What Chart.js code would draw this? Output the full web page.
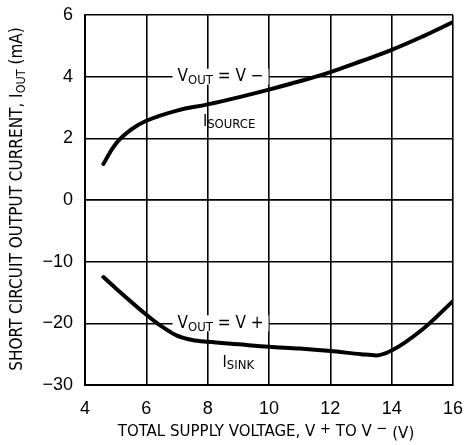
<!DOCTYPE html>
<html>
<head>
<meta charset="utf-8">
<script src="https://cdn.jsdelivr.net/npm/chart.js@4.4.1/dist/chart.umd.min.js"></script>
<style>
  html, body { margin: 0; padding: 0; background: #fff; }
  #wrap { width: 473px; height: 445px; }
</style>
</head>
<body>
<div id="wrap"><canvas id="curChart"></canvas></div>
<script>
const FONT = "'Liberation Sans Narrow', 'DejaVu Sans Condensed', 'Liberation Sans', sans-serif";
const TICK_FONT = "'Liberation Sans', Arial, sans-serif";

// supply voltage (V) and output current (mA)
const sourceV = [4.6, 5.0, 5.5, 6, 7, 8, 9, 10, 11, 12, 13, 14, 15, 16];
const sourceI = [1.17, 1.82, 2.28, 2.57, 2.9, 3.1, 3.33, 3.58, 3.85, 4.15, 4.5, 4.87, 5.3, 5.77];
const sinkV = [4.6, 5, 6, 6.5, 7, 7.5, 8, 9, 10, 11, 12, 13, 13.5, 14, 15, 16];
const sinkI = [-12.5, -14.3, -18.6, -20.5, -22.0, -22.7, -23.0, -23.4, -23.8, -24.1, -24.5, -25.0, -25.2, -24.4, -21.0, -16.4];

const xTicks = [4, 6, 8, 10, 12, 14, 16];
const topTicks = [0, 2, 4, 6];
const bottomTicks = [-30, -20, -10, 0];

const toPts = (xs, ys) => xs.map((x, i) => ({ x: x, y: ys[i] }));
const fmt = v => v < 0 ? '\u2212' + Math.abs(v) : String(v);

// draws runs of text (with sub/superscripts) starting at x, baseline y
function drawRuns(ctx, runs, x, y) {
  runs.forEach(r => {
    ctx.font = r.size + 'px ' + FONT;
    ctx.fillText(r.text, x, y + (r.dy || 0));
    x += ctx.measureText(r.text).width;
  });
  return x;
}
function runsWidth(ctx, runs) {
  let w = 0;
  runs.forEach(r => { ctx.font = r.size + 'px ' + FONT; w += ctx.measureText(r.text).width; });
  return w;
}

const labels = [
  { axis: 'yTop', x: 8.42, y: 4, runs: [{ text: 'V', size: 17 }, { text: 'OUT', size: 13, dy: 4 }, { text: ' = V \u2212', size: 17 }], box: true },
  { axis: 'yTop', x: 8.7, y: 2.45, runs: [{ text: 'I', size: 16, dy: -3 }, { text: 'SOURCE', size: 13 }], box: false },
  { axis: 'yBot', x: 8.42, y: -20, runs: [{ text: 'V', size: 17 }, { text: 'OUT', size: 13, dy: 4 }, { text: ' = V +', size: 17 }], box: true },
  { axis: 'yBot', x: 9.0, y: -26.9, runs: [{ text: 'I', size: 16, dy: -3 }, { text: 'SINK', size: 13 }], box: false }
];

const annotate = {
  id: 'annotate',
  afterDatasetsDraw(chart) {
    const ctx = chart.ctx;
    const xs = chart.scales.x;
    ctx.save();
    ctx.fillStyle = '#000';
    ctx.textBaseline = 'middle';
    labels.forEach(l => {
      const w = runsWidth(ctx, l.runs);
      const cx = xs.getPixelForValue(l.x);
      const cy = chart.scales[l.axis].getPixelForValue(l.y);
      if (l.box) {
        ctx.fillStyle = '#fff';
        ctx.fillRect(cx - w / 2 - 5, cy - 8, w + 10, 16);
        ctx.fillStyle = '#000';
      }
      drawRuns(ctx, l.runs, cx - w / 2, cy);
    });
    ctx.restore();
  },
  afterDraw(chart) {
    const ctx = chart.ctx;
    const area = chart.chartArea;
    ctx.save();
    ctx.fillStyle = '#000';
    ctx.textBaseline = 'middle';
    // y axis title
    const yRuns = [
      { text: 'SHORT CIRCUIT OUTPUT CURRENT, I', size: 17 },
      { text: 'OUT', size: 12.5, dy: 4 },
      { text: ' (mA)', size: 17 }
    ];
    const yw = runsWidth(ctx, yRuns);
    ctx.translate(18, 199);
    ctx.rotate(-Math.PI / 2);
    drawRuns(ctx, yRuns, -yw / 2, 0);
    ctx.setTransform(1, 0, 0, 1, 0, 0);
    // x axis title
    const xRuns = [
      { text: 'TOTAL SUPPLY VOLTAGE, V ', size: 16.7 },
      { text: '+', size: 14.5, dy: -3 },
      { text: ' TO V ', size: 16.7 },
      { text: '\u2212', size: 14.5, dy: -3 },
      { text: ' (V)', size: 16.7, dy: 2 }
    ];
    const xw = runsWidth(ctx, xRuns);
    drawRuns(ctx, xRuns, (area.left + area.right) / 2 - xw / 2 - 3, 432);
    ctx.restore();
  }
};

const gridStyle = { color: '#000', lineWidth: 1.6, drawTicks: false };
const tickFont = { family: TICK_FONT, size: 18 };

const fitY = s => { s.width = 55; s.paddingTop = 0; s.paddingBottom = 0; };

new Chart('curChart', {
  type: 'line',
  data: {
    datasets: [
      {
        label: 'I SOURCE',
        data: toPts(sourceV, sourceI),
        yAxisID: 'yTop',
        borderColor: '#000',
        borderWidth: 4,
        borderCapStyle: 'round',
        pointRadius: 0,
        tension: 0.4
      },
      {
        label: 'I SINK',
        data: toPts(sinkV, sinkI),
        yAxisID: 'yBot',
        borderColor: '#000',
        borderWidth: 4,
        borderCapStyle: 'round',
        pointRadius: 0,
        cubicInterpolationMode: 'monotone'
      }
    ]
  },
  options: {
    responsive: true,
    maintainAspectRatio: false,
    animation: false,
    layout: { padding: { left: 30, right: 20, top: 15, bottom: 0 } },
    plugins: {
      legend: { display: false },
      tooltip: { enabled: false }
    },
    scales: {
      x: {
        type: 'linear',
        min: 4,
        max: 16,
        afterBuildTicks: s => { s.ticks = xTicks.map(v => ({ value: v })); },
        grid: gridStyle,
        border: { color: '#000', width: 2 },
        ticks: { color: '#000', font: tickFont, padding: 13 },
        afterFit: s => { s.height = 60; s.paddingLeft = 0; s.paddingRight = 0; }
      },
      yBot: {
        type: 'linear',
        position: 'left',
        stack: 'cur',
        stackWeight: 1,
        min: -30,
        max: 0,
        afterBuildTicks: s => { s.ticks = bottomTicks.map(v => ({ value: v })); },
        grid: gridStyle,
        border: { color: '#000', width: 2 },
        ticks: { color: '#000', font: tickFont, padding: 12, callback: v => v === 0 ? '' : fmt(v) },
        afterFit: fitY
      },
      yTop: {
        type: 'linear',
        position: 'left',
        stack: 'cur',
        stackWeight: 1,
        min: 0,
        max: 6,
        afterBuildTicks: s => { s.ticks = topTicks.map(v => ({ value: v })); },
        grid: gridStyle,
        border: { color: '#000', width: 2 },
        ticks: { color: '#000', font: tickFont, padding: 12, callback: v => fmt(v) },
        afterFit: fitY
      }
    }
  },
  plugins: [annotate]
});
</script>
</body>
</html>
